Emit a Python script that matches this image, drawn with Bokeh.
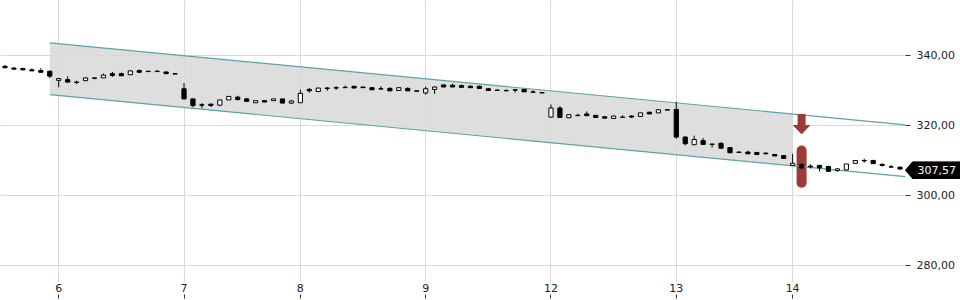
import numpy as np
from bokeh.plotting import figure
from bokeh.models import FixedTicker, LinearAxis, Range1d, ColumnDataSource, GridBox
from bokeh.core.properties import value
from bokeh.embed import file_html
from bokeh.resources import INLINE

# ---------------- data ----------------
day_tick_idx = [6, 20, 33, 47, 61, 75, 88]
day_labels = ["6", "7", "8", "9", "12", "13", "14"]

opens = [336.9, 336.4, 336.3, 335.9, 335.7, 335.5,
         332.9, 333.1, 332.4, 332.8, 333.6, 333.6, 334.8, 334.8, 334.5, 335.7, 335.5, 335.5, 335.3, 334.8,
         330.5, 327.6, 325.9, 326.1, 325.8, 327.3, 328.1, 327.6, 326.5, 327.1, 327.1, 327.6, 326.4,
         326.5, 330.3, 329.7, 330.7, 330.8, 330.9, 331.2, 331.0, 330.8, 330.5, 330.6, 330.0, 330.6, 329.9,
         329.3, 330.3, 331.6, 331.5, 331.4, 331.2, 331.2, 330.5, 330.1, 330.0, 330.2, 330.3, 329.6, 329.4,
         322.4, 325.0, 322.2, 322.9, 323.3, 322.9, 322.5, 322.0, 322.4, 322.7, 322.6, 323.8, 323.6, 324.5,
         324.6, 316.7, 314.5, 315.7, 314.7, 314.9, 313.7, 312.4, 312.4, 312.3, 312.1, 311.7, 311.4,
         308.6, 308.8, 308.4, 308.6, 308.3, 307.1, 307.3, 309.2, 310.0, 310.0, 308.9, 308.2, 308.1]
highs = [337.3, 336.7, 336.3, 336.3, 336.4, 335.7,
         333.5, 334.0, 332.8, 333.6, 333.6, 334.8, 335.3, 335.1, 335.7, 336.0, 335.5, 335.8, 335.3, 334.8,
         332.1, 327.7, 326.4, 326.2, 327.3, 328.3, 328.5, 327.9, 327.1, 327.1, 327.6, 327.6, 327.3,
         330.2, 330.7, 330.7, 331.0, 331.2, 331.4, 331.3, 331.0, 330.8, 331.2, 330.9, 330.8, 330.9, 329.9,
         331.1, 331.2, 331.6, 331.9, 331.7, 331.5, 331.4, 330.6, 330.4, 330.3, 330.2, 330.3, 330.0, 329.4,
         326.0, 325.5, 323.1, 323.4, 324.0, 322.9, 322.6, 322.8, 322.9, 322.9, 323.6, 323.8, 324.6, 324.5,
         326.7, 316.9, 317.1, 316.4, 314.7, 315.2, 313.7, 312.6, 312.8, 312.4, 312.3, 311.7, 311.4,
         311.9, 309.2, 308.9, 308.6, 308.5, 307.8, 309.0, 310.0, 310.5, 310.2, 309.1, 308.7, 308.2]
lows = [336.4, 336.0, 335.8, 335.6, 335.2, 333.6,
        330.9, 332.3, 331.8, 332.8, 333.2, 333.6, 333.9, 334.2, 334.5, 335.1, 335.4, 335.4, 334.8, 334.7,
        327.5, 325.2, 325.0, 325.3, 325.5, 327.3, 327.2, 326.7, 326.5, 326.7, 327.1, 326.4, 326.1,
        326.5, 329.4, 329.7, 329.9, 330.2, 330.8, 330.7, 330.8, 330.2, 330.4, 329.9, 330.0, 329.9, 329.8,
        328.8, 329.0, 331.0, 331.0, 330.9, 330.8, 330.6, 330.0, 330.0, 329.9, 329.4, 329.6, 329.5, 329.3,
        322.3, 322.2, 322.2, 322.8, 322.8, 322.3, 322.0, 322.0, 322.3, 322.2, 322.6, 323.3, 323.6, 324.4,
        316.2, 314.3, 314.5, 314.6, 313.7, 313.5, 312.2, 312.3, 311.9, 311.7, 311.9, 311.3, 310.6,
        308.6, 307.5, 307.7, 306.9, 306.7, 306.8, 307.2, 309.2, 309.4, 309.0, 308.3, 308.1, 307.4]
closes = [336.5, 336.1, 335.9, 335.6, 335.2, 334.1,
          333.4, 332.4, 332.3, 333.6, 333.5, 334.4, 334.3, 334.2, 335.6, 335.2, 335.4, 335.4, 334.8, 334.7,
          327.6, 325.7, 325.8, 325.7, 327.3, 328.3, 327.4, 326.9, 327.1, 326.7, 327.6, 326.4, 327.0,
          329.2, 329.9, 330.7, 330.6, 330.7, 330.8, 330.7, 330.8, 330.2, 330.4, 329.9, 330.8, 329.9, 329.8,
          330.5, 331.0, 331.0, 331.0, 330.9, 330.8, 330.6, 330.0, 330.0, 329.9, 330.1, 329.6, 329.5, 329.3,
          325.0, 322.3, 323.1, 322.8, 322.8, 322.3, 322.1, 322.7, 322.3, 322.4, 323.6, 323.3, 324.5, 324.4,
          316.7, 314.8, 316.0, 314.6, 314.6, 313.5, 312.2, 312.3, 311.9, 311.7, 311.9, 311.3, 310.6,
          309.2, 307.9, 308.2, 307.9, 306.9, 307.6, 309.0, 310.0, 309.9, 309.1, 308.6, 308.1, 307.57]

y_ticks = [280, 300, 320, 340]
y_tick_labels = ["280,00", "300,00", "320,00", "340,00"]

channel_x = [5, 100.6]
channel_upper = [343.6, 320.2]
channel_lower = [328.8, 305.4]
channel_shade_end = 88

signal_idx = 89
signal_arrow_top = 323.3
signal_arrow_neck = 320.0
signal_arrow_tip = 317.6
signal_bar_top = 314.3
signal_bar_bottom = 302.2

last_price = 307.57
last_price_label = "307,57"

# ---------------- layout constants ----------------
W, H = 960, 300
X0, X1 = -0.503, 100.61
Y0, Y1 = 275.14, 355.71
FRAME_W, FRAME_H = 905, 282
px_x = FRAME_W / (X1 - X0)
px_y = FRAME_H / (Y1 - Y0)

FONT = "DejaVu Sans"
TEAL = "#5aa3a8"
RED = "#9c3b36"

p = figure(width=W, height=H, x_range=Range1d(X0, X1), y_range=Range1d(Y0, Y1),
           output_backend="svg", toolbar_location=None, y_axis_location="right",
           min_border_left=0, min_border_top=0, min_border_right=W - FRAME_W,
           min_border_bottom=H - FRAME_H)
p.frame_align = False
p.outline_line_color = None
p.background_fill_color = "white"
p.border_fill_color = "white"

# grids
p.xgrid.ticker = FixedTicker(ticks=day_tick_idx)
p.ygrid.ticker = FixedTicker(ticks=y_ticks)
p.grid.grid_line_color = "#d9d9d9"
p.grid.grid_line_width = 1

# y axis (right)
yax = p.yaxis[0]
yax.ticker = FixedTicker(ticks=y_ticks)
yax.major_label_overrides = dict(zip(y_ticks, y_tick_labels))
yax.axis_line_color = None
yax.major_tick_in = 0
yax.major_tick_out = 5
yax.major_tick_line_color = "#333333"
yax.minor_tick_line_color = None
yax.major_label_standoff = 6
yax.major_label_text_font = FONT
yax.major_label_text_font_size = "11px"
yax.major_label_text_color = "#222222"

# x axis labels (nearest to frame)
xax = p.xaxis[0]
xax.ticker = FixedTicker(ticks=day_tick_idx)
xax.major_label_overrides = dict(zip(day_tick_idx, day_labels))
xax.axis_line_color = None
xax.major_tick_in = 0
xax.major_tick_out = 0
xax.minor_tick_line_color = None
xax.major_label_standoff = 1
xax.major_label_text_font = FONT
xax.major_label_text_font_size = "11px"
xax.major_label_text_color = "#222222"

# x axis tick marks below the labels (no labels drawn)
xtk = LinearAxis(ticker=FixedTicker(ticks=day_tick_idx))
xtk.axis_line_color = None
xtk.major_tick_in = 0
xtk.major_tick_out = 4
xtk.major_tick_line_color = "#333333"
xtk.minor_tick_line_color = None
xtk.major_label_text_font_size = "0px"
xtk.major_label_text_color = None
xtk.major_label_standoff = 0
p.add_layout(xtk, "below")

# channel shading
sx = np.array([channel_x[0], channel_shade_end])
up = np.interp(sx, channel_x, channel_upper)
lo = np.interp(sx, channel_x, channel_lower)
shade = p.patch(list(sx) + list(sx[::-1]), list(up) + list(lo[::-1]),
                fill_color="#dedede", line_color=None)
shade.level = "image"

# signal capsule (behind candles)
r_units = 5 / px_y
p.segment(x0=[signal_idx], y0=[signal_bar_top - r_units], x1=[signal_idx], y1=[signal_bar_bottom + r_units],
          line_color=RED, line_width=10, line_cap="round")

# channel lines
p.line(channel_x, channel_upper, line_color=TEAL, line_width=1.2)
p.line(channel_x, channel_lower, line_color=TEAL, line_width=1.2)

# candles
idx = np.arange(len(opens))
o = np.array(opens); c = np.array(closes)
up_mask = c > o
src = ColumnDataSource(dict(
    x=idx, h=highs, l=lows,
    top=np.maximum(o, c), bottom=np.minimum(o, c),
    fill=np.where(up_mask, "white", "black"),
))
p.segment(x0="x", y0="h", x1="x", y1="l", source=src, line_color="black", line_width=1)
p.vbar(x="x", top="top", bottom="bottom", width=0.47, source=src,
       fill_color="fill", line_color="black", line_width=1)

# signal arrow
p.segment(x0=[signal_idx], y0=[signal_arrow_top], x1=[signal_idx], y1=[signal_arrow_neck],
          line_color=RED, line_width=8, line_cap="butt")
hw = 8 / px_x
p.patch([signal_idx - hw, signal_idx + hw, signal_idx],
        [signal_arrow_neck, signal_arrow_neck, signal_arrow_tip],
        fill_color=RED, line_color=RED, line_width=1)

# ---------------- overlay for the last-price tag (spans the whole canvas width) ----------------
ov = figure(width=W, height=H, x_range=Range1d(0, W), y_range=Range1d(Y0, Y1),
            output_backend="svg", toolbar_location=None,
            x_axis_location=None, y_axis_location=None,
            min_border_left=0, min_border_top=0, min_border_right=0,
            min_border_bottom=H - FRAME_H)
ov.frame_align = False
ov.outline_line_color = None
ov.background_fill_color = None
ov.border_fill_color = None
ov.grid.visible = False

tag_center = last_price - 1.2 / px_y
half = 8.3 / px_y
box_left = FRAME_W + 7
ov.patch([FRAME_W, box_left, W, W, box_left],
         [tag_center, tag_center + half, tag_center + half, tag_center - half, tag_center - half],
         fill_color="black", line_color="black", line_width=1)
ov.text(x=[box_left + 5], y=[tag_center], text=[last_price_label],
        text_color="white", text_font=value(FONT), text_font_size="11px",
        text_baseline="middle", text_align="left")

layout = GridBox(children=[(p, 0, 0), (ov, 0, 0)], width=W, height=H)

open("out.html", "w").write(file_html(layout, INLINE))
